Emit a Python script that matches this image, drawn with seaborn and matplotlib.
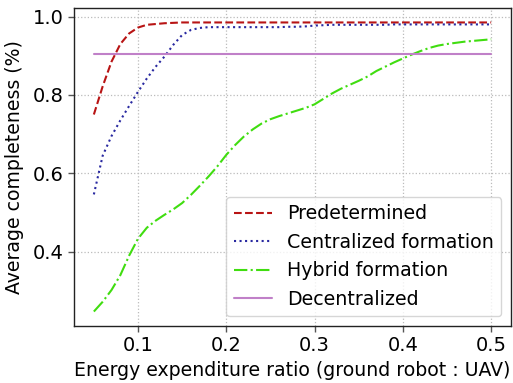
import numpy as np
import pandas as pd
import matplotlib
matplotlib.use("Agg")
import matplotlib.pyplot as plt
import seaborn as sns

# Energy expenditure ratio (ground robot : UAV)
ratio = [0.05, 0.06, 0.07, 0.08, 0.09, 0.10, 0.11, 0.12, 0.13, 0.14,
         0.15, 0.16, 0.17, 0.18, 0.19, 0.20, 0.21, 0.22, 0.23, 0.24,
         0.25, 0.26, 0.27, 0.28, 0.29, 0.30, 0.31, 0.32, 0.33, 0.34,
         0.35, 0.36, 0.37, 0.38, 0.39, 0.40, 0.41, 0.42, 0.43, 0.44,
         0.45, 0.46, 0.47, 0.48, 0.49, 0.50]

predetermined = [0.750, 0.822, 0.885, 0.930, 0.957, 0.972, 0.979, 0.981, 0.983, 0.984,
                 0.985, 0.985, 0.985, 0.985, 0.985, 0.985, 0.985, 0.985, 0.985, 0.985,
                 0.985, 0.985, 0.985, 0.985, 0.985, 0.985, 0.985, 0.985, 0.985, 0.985,
                 0.985, 0.985, 0.985, 0.985, 0.985, 0.985, 0.985, 0.985, 0.985, 0.985,
                 0.985, 0.985, 0.985, 0.985, 0.985, 0.985]

centralized = [0.546, 0.645, 0.695, 0.735, 0.772, 0.808, 0.842, 0.872, 0.898, 0.928,
               0.953, 0.966, 0.971, 0.973, 0.973, 0.973, 0.973, 0.973, 0.973, 0.973,
               0.973, 0.973, 0.974, 0.974, 0.975, 0.977, 0.978, 0.979, 0.979, 0.979,
               0.979, 0.979, 0.979, 0.979, 0.980, 0.980, 0.980, 0.980, 0.980, 0.980,
               0.980, 0.980, 0.980, 0.980, 0.980, 0.980]

hybrid = [0.247, 0.272, 0.302, 0.340, 0.390, 0.433, 0.461, 0.479, 0.494, 0.508,
          0.524, 0.545, 0.568, 0.592, 0.618, 0.647, 0.672, 0.694, 0.712, 0.727,
          0.738, 0.746, 0.753, 0.760, 0.767, 0.776, 0.790, 0.804, 0.816, 0.826,
          0.836, 0.847, 0.861, 0.872, 0.883, 0.893, 0.903, 0.912, 0.920, 0.926,
          0.930, 0.933, 0.936, 0.938, 0.940, 0.942]

decentralized = [0.904] * len(ratio)

series_names = ["Predetermined", "Centralized formation", "Hybrid formation", "Decentralized"]
series_values = [predetermined, centralized, hybrid, decentralized]
colors = ["#b81414", "#2828a0", "#40dd10", "#c080c8"]
styles = ["--", ":", "-.", "-"]

df = pd.concat(
    [pd.DataFrame({"ratio": ratio, "completeness": vals, "method": name})
     for name, vals in zip(series_names, series_values)],
    ignore_index=True,
)

sns.set_theme(style="whitegrid")
plt.rcParams["font.family"] = ["DejaVu Sans"]
plt.rcParams["text.color"] = "black"
plt.rcParams["axes.labelcolor"] = "black"
plt.rcParams["xtick.color"] = "black"
plt.rcParams["ytick.color"] = "black"

fig, ax = plt.subplots(figsize=(5.13, 3.83), dpi=100)

for name, color, ls in zip(series_names, colors, styles):
    sub = df[df["method"] == name]
    sns.lineplot(data=sub, x="ratio", y="completeness", ax=ax, color=color,
                 linestyle=ls, linewidth=1.5, label=name)

ax.grid(True, linestyle=":", color="#bbbbbb", linewidth=0.9)
for side in ["left", "bottom", "top", "right"]:
    ax.spines[side].set_color("#222222")
    ax.spines[side].set_linewidth(1.0)
ax.tick_params(axis="both", which="both", direction="out", length=4, width=1,
               color="#555555", labelcolor="black", labelsize=14,
               left=True, bottom=True)

ax.set_xticks([0.1, 0.2, 0.3, 0.4, 0.5])
ax.set_yticks([0.4, 0.6, 0.8, 1.0])
ax.set_xlabel("Energy expenditure ratio (ground robot : UAV)", fontsize=13.6)
ax.set_ylabel("Average completeness (%)", fontsize=13.6, labelpad=6)

ax.legend(loc="lower right", fontsize=13.7, frameon=True, handlelength=2.0)

fig.subplots_adjust(left=74 / 513, right=511 / 513, bottom=57 / 383, top=375 / 383)
fig.savefig("out.png", dpi=100)
